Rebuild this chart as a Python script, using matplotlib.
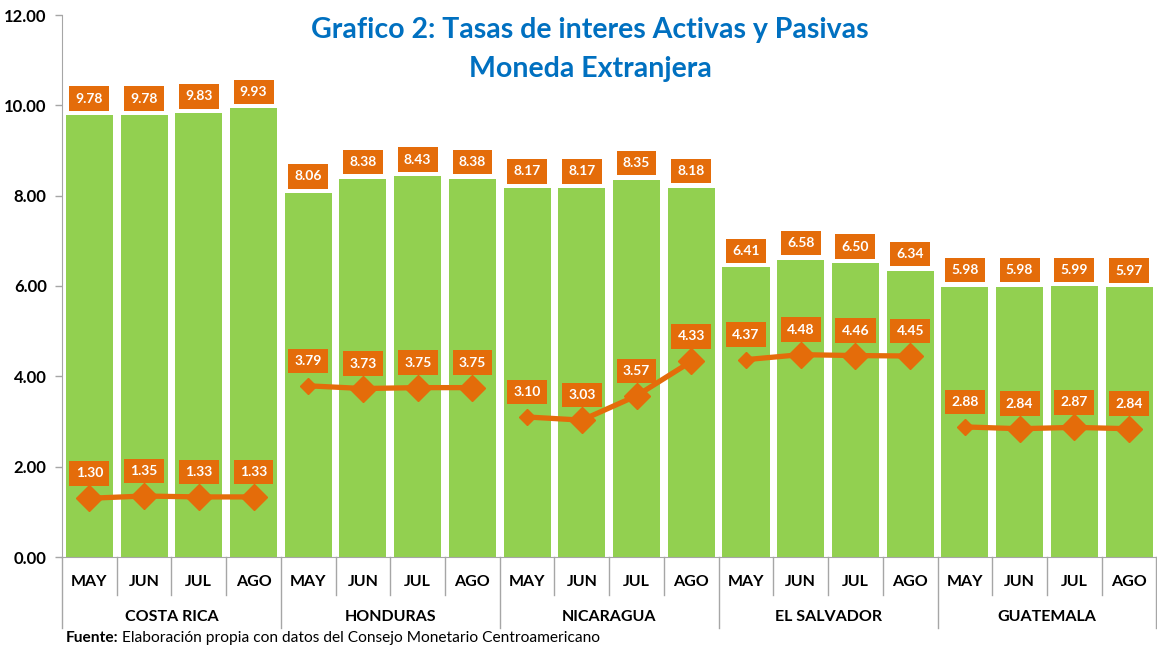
import matplotlib
matplotlib.use("Agg")
import matplotlib.pyplot as plt
import numpy as np

countries = ["COSTA RICA", "HONDURAS", "NICARAGUA", "EL SALVADOR", "GUATEMALA"]
months = ["MAY", "JUN", "JUL", "AGO"]
activas = [9.78, 9.78, 9.83, 9.93,
           8.06, 8.38, 8.43, 8.38,
           8.17, 8.17, 8.35, 8.18,
           6.41, 6.58, 6.50, 6.34,
           5.98, 5.98, 5.99, 5.97]
pasivas = [1.30, 1.35, 1.33, 1.33,
           3.79, 3.73, 3.75, 3.75,
           3.10, 3.03, 3.57, 4.33,
           4.37, 4.48, 4.46, 4.45,
           2.88, 2.84, 2.87, 2.84]
yticks = [0, 2, 4, 6, 8, 10, 12]

plt.rcParams['font.family'] = ['Lato', 'DejaVu Sans']

GREEN = "#92D050"
ORANGE = "#E46C0A"
BLUE = "#0070C0"
GRAY = "#A6A6A6"

fig = plt.figure(figsize=(11.57, 6.47), dpi=100)
ax = fig.add_axes([62/1157, 1-557/647, 1-62/1157 - 0.0005, (557-15)/647])

n = len(activas)
x = np.arange(n)
ax.bar(x, activas, width=0.86, color=GREEN, zorder=2)

for g in range(len(countries)):
    xs = x[g*4:(g+1)*4]
    ys = pasivas[g*4:(g+1)*4]
    ax.plot(xs, ys, color=ORANGE, lw=3.8, zorder=3, solid_capstyle='butt')
    for k, (xx, yy) in enumerate(zip(xs, ys)):
        ms = 13 if (k > 0 or g == 0) else 8
        ax.plot([xx], [yy], marker='D', ms=ms, color=ORANGE, mec=ORANGE, zorder=4)

box = dict(boxstyle="square,pad=0.45", fc=ORANGE, ec="none")
for xx, v in zip(x, activas):
    ax.annotate(f"{v:.2f}", (xx, v), xytext=(0, 12), textcoords="offset points",
                ha="center", va="center", color="white", fontsize=10,
                fontweight="bold", bbox=box, zorder=5)
for xx, v in zip(x, pasivas):
    ax.annotate(f"{v:.2f}", (xx, v), xytext=(0, 18), textcoords="offset points",
                ha="center", va="center", color="white", fontsize=10,
                fontweight="bold", bbox=box, zorder=5)

ax.set_xlim(-0.5, n - 0.5)
ax.set_ylim(0, 12)
ax.set_yticks(yticks)
ax.set_yticklabels([f"{t:.2f}" for t in yticks], fontsize=12, fontweight="bold")
ax.tick_params(axis='y', length=5, color=GRAY, width=1, pad=6)
ax.set_xticks([])
for s in ["top", "right"]:
    ax.spines[s].set_visible(False)
ax.spines["left"].set_color(GRAY)
ax.spines["bottom"].set_color(GRAY)

tr = ax.get_xaxis_transform()
for i in range(n + 1):
    xb = i - 0.5
    depth = -71/542 if i % 4 == 0 else -38/542
    ax.plot([xb, xb], [0, depth], transform=tr, color=GRAY, lw=1, clip_on=False)
for i in range(n):
    ax.text(i, -25/542, months[i % 4], transform=tr, ha="center", va="center",
            fontsize=11.5, fontweight="bold")
for g, c in enumerate(countries):
    ax.text(g*4 + 1.5, -60/542, c, transform=tr, ha="center", va="center",
            fontsize=11.5, fontweight="bold")

fig.text(590/1157, 1-30/647, "Grafico 2: Tasas de interes Activas y Pasivas",
         ha="center", va="center", color=BLUE, fontsize=20.5, fontweight="bold")
fig.text(590/1157, 1-69/647, "Moneda Extranjera",
         ha="center", va="center", color=BLUE, fontsize=20.5, fontweight="bold")

t1 = fig.text(66/1157, 1-638/647, "Fuente:", ha="left", va="center",
              fontsize=11.2, fontweight="bold")
fig.canvas.draw()
bb = t1.get_window_extent()
fig.text((bb.x1 + 3)/1157, 1-638/647,
         "Elaboración propia con datos del Consejo Monetario Centroamericano",
         ha="left", va="center", fontsize=11.2)

fig.savefig("out.png", dpi=100)
